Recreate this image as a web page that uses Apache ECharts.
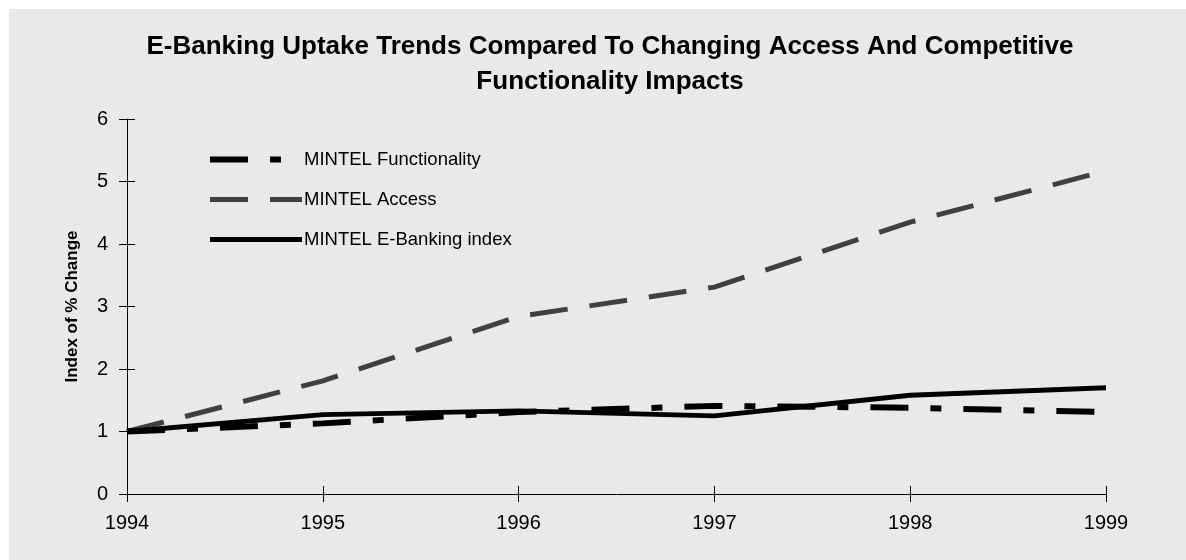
<!DOCTYPE html>
<html>
<head>
<meta charset="utf-8">
<script src="https://cdn.jsdelivr.net/npm/echarts@6/dist/echarts.min.js"></script>
<style>
  html, body { margin: 0; padding: 0; background: #ffffff; }
  #chart { position: absolute; left: 9px; top: 9px; width: 1177px; height: 551px; background: #e9e9e9; }
</style>
</head>
<body>
<div id="chart"></div>
<script>
const years = ['1994', '1995', '1996', '1997', '1998', '1999']
const functionality = [1.0, 1.13, 1.31, 1.41, 1.38, 1.31]
const access = [1.0, 1.81, 2.84, 3.31, 4.35, 5.17]
const eBanking = [1.0, 1.27, 1.33, 1.25, 1.58, 1.70]

const FONT = "'Liberation Sans', Arial, sans-serif"
const FUNC_DASH = [38, 22, 11, 22]
const ACCESS_DASH = [38, 22]

const chart = echarts.init(document.getElementById('chart'), null, { renderer: 'canvas' })

const yBase = {
  type: 'value', min: 0, max: 6, interval: 1,
  axisLine: { show: true, lineStyle: { color: '#000', width: 1 } },
  splitLine: { show: false },
}

chart.setOption({
  backgroundColor: '#e9e9e9',
  animation: false,
  title: {
    text: 'E-Banking Uptake Trends Compared To Changing Access And Competitive\nFunctionality Impacts',
    left: 596, top: 15, textAlign: 'center',
    textStyle: { fontFamily: FONT, fontWeight: 'bold', fontSize: 26, lineHeight: 35, color: '#000' },
  },
  legend: {
    orient: 'vertical', left: 198, top: 141, padding: 0,
    itemWidth: 92, itemHeight: 14, itemGap: 21,
    textStyle: { fontFamily: FONT, fontSize: 18.5, color: '#000', padding: [0, 0, 0, -3] },
    itemStyle: { opacity: 0 },
    data: [
      { name: 'MINTEL Functionality', lineStyle: { color: '#000', width: 6, type: FUNC_DASH, opacity: 1 } },
      { name: 'MINTEL Access', lineStyle: { color: '#404040', width: 5, type: ACCESS_DASH, opacity: 1 } },
      { name: 'MINTEL E-Banking index', lineStyle: { color: '#000', width: 5, type: 'solid', opacity: 1 } },
    ],
  },
  grid: { left: 118, right: 80, top: 110, bottom: 66 },
  xAxis: [
    {
      type: 'category', data: years, boundaryGap: false,
      axisLine: { lineStyle: { color: '#000', width: 1 } },
      axisTick: { show: true, length: 8, lineStyle: { color: '#000' } },
      axisLabel: { fontFamily: FONT, fontSize: 20, color: '#000', margin: 19 },
    },
    {
      type: 'category', data: years, boundaryGap: false, position: 'bottom',
      axisLine: { show: false, onZero: false },
      axisTick: { show: true, inside: true, length: 8, lineStyle: { color: '#000' } },
      axisLabel: { show: false },
    },
  ],
  yAxis: [
    {
      ...yBase,
      name: 'Index of % Change', nameLocation: 'middle', nameGap: 46,
      nameTextStyle: { fontFamily: FONT, fontWeight: 'bold', fontSize: 17, color: '#000' },
      axisTick: { show: true, length: 8, lineStyle: { color: '#000' } },
      axisLabel: { fontFamily: FONT, fontSize: 20, color: '#000', margin: 19 },
    },
    {
      ...yBase, position: 'left',
      axisLine: { show: false },
      axisTick: { show: true, inside: true, length: 8, lineStyle: { color: '#000' } },
      axisLabel: { show: false },
    },
  ],
  series: [
    {
      name: 'MINTEL Functionality', type: 'line', data: functionality,
      symbol: 'none', z: 3,
      lineStyle: { color: '#000', width: 6, type: FUNC_DASH, cap: 'butt' },
      itemStyle: { color: '#000' },
    },
    {
      name: 'MINTEL Access', type: 'line', data: access,
      symbol: 'none', z: 2,
      lineStyle: { color: '#404040', width: 5, type: ACCESS_DASH, cap: 'butt' },
      itemStyle: { color: '#404040' },
    },
    {
      name: 'MINTEL E-Banking index', type: 'line', data: eBanking,
      symbol: 'none', z: 4,
      lineStyle: { color: '#000', width: 5, type: 'solid' },
      itemStyle: { color: '#000' },
    },
  ],
})
window.addEventListener('resize', () => chart.resize())
</script>
</body>
</html>
